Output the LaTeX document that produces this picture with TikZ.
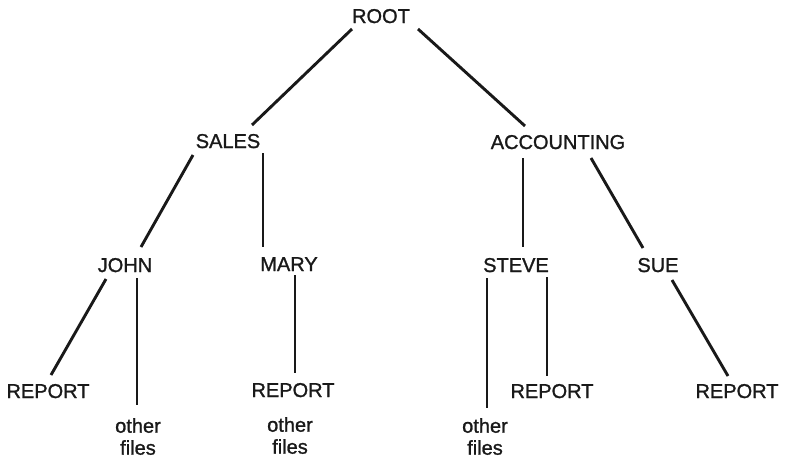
\documentclass[tikz,border=0pt]{standalone}
\usepackage{fontspec}
\setmainfont{Liberation Sans}
\newfontfamily\lblfont[FakeBold=1.2]{Liberation Sans}
\begin{document}
\begin{tikzpicture}[x=1pt,y=-1pt,
  lbl/.style={inner sep=0pt, anchor=base, font=\lblfont\fontsize{20}{22}\selectfont, text=black!90},
  files/.style={inner sep=0pt, anchor=north, align=center, font=\lblfont\fontsize{20}{22}\selectfont, text=black!90},
  link/.style={line width=2.9pt, black!90}]
\useasboundingbox (0,0) rectangle (785,458);
% nodes
\node[lbl] (root)  at (381,23)  {ROOT};
\node[lbl] (sales) at (228,148) {SALES};
\node[lbl] (acc)   at (558,149) {ACCOUNTING};
\node[lbl] (john)  at (125,272) {JOHN};
\node[lbl] (mary)  at (289,271) {MARY};
\node[lbl] (steve) at (516,272) {STEVE};
\node[lbl] (sue)   at (658,272) {SUE};
\node[lbl] (rep1)  at (48,398)  {REPORT};
\node[lbl] (rep2)  at (293,397) {REPORT};
\node[lbl] (rep3)  at (552,398) {REPORT};
\node[lbl] (rep4)  at (737,398) {REPORT};
\node[files] (of1) at (138,418) {other\\files};
\node[files] (of2) at (290,417) {other\\files};
\node[files] (of3) at (485,418) {other\\files};
% connectors
\draw[link] ([shift={(-29,6)}]root.base) -- ([shift={(24,-23)}]sales.base);
\draw[link] ([shift={(37,6)}]root.base) -- ([shift={(-33,-23)}]acc.base);
\draw[link] ([shift={(-35,7)}]sales.base) -- ([shift={(16,-25)}]john.base);
\draw[link] ([shift={(35,5)}]sales.base) -- ([shift={(-26,-24)}]mary.base);
\draw[link] ([shift={(-35,9)}]acc.base) -- ([shift={(7,-25)}]steve.base);
\draw[link] ([shift={(33,9)}]acc.base) -- ([shift={(-15,-24)}]sue.base);
\draw[link] ([shift={(-19,7)}]john.base) -- ([shift={(3,-23)}]rep1.base);
\draw[link] ([shift={(12,6)}]john.base) -- ([shift={(-1,-13)}]of1.north);
\draw[link] ([shift={(6,4)}]mary.base) -- ([shift={(2,-24)}]rep2.base);
\draw[link] ([shift={(-29,6)}]steve.base) -- ([shift={(2,-10)}]of3.north);
\draw[link] ([shift={(31,5)}]steve.base) -- ([shift={(-5,-22)}]rep3.base);
\draw[link] ([shift={(14,8)}]sue.base) -- ([shift={(-9,-22)}]rep4.base);
\end{tikzpicture}
\end{document}
